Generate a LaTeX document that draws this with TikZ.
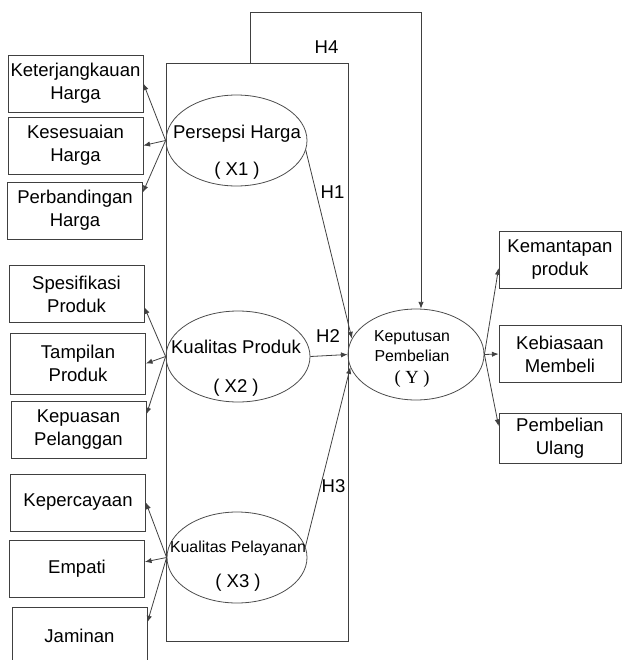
\documentclass[tikz,border=0pt]{standalone}
\usepackage{fontspec}
\setmainfont{Liberation Sans}
\newfontfamily\serifY{Liberation Serif}
\usepackage{tikz}
\usetikzlibrary{arrows.meta}
\usetikzlibrary{shapes.geometric}

\begin{document}
\begin{tikzpicture}[x=0.75pt, y=-0.75pt, >={Latex[length=5pt,width=4pt]},
	every node/.style={align=center, font=\fontsize{13.9}{17.3}\selectfont},
	box/.style={rectangle, draw=black!75, line width=0.6pt, minimum width=101.25pt, minimum height=42.75pt, inner sep=0pt},
	rbox/.style={box, minimum width=91.5pt},
	lv/.style={ellipse, draw=black!70, line width=0.6pt, minimum width=105.75pt, minimum height=68.25pt, inner sep=0pt},
	sm/.style={font=\fontsize{11.9}{15.5}\selectfont},
	ln/.style={draw=black!75, line width=0.6pt, ->}]
	\useasboundingbox (0,0) rectangle (623,660);
	\node[draw=black!75, line width=0.6pt, minimum width=136.5pt, minimum height=433.5pt, inner sep=0pt] (frm) at (257,352) {};
	\node[box] (a1) at (75.5,83.5) {Keterjangkauan\\Harga};
	\node[box] (a2) at (75.5,145.5) {Kesesuaian\\Harga};
	\node[box] (a3) at (75,210.5) {Perbandingan\\Harga};
	\node[box] (b1) at (76.5,294) {Spesifikasi\\Produk};
	\node[box, minimum height=45.75pt] (b2) at (78,363.5) {Tampilan\\Produk};
	\node[box] (b3) at (78.5,430) {Kepuasan\\Pelanggan};
	\node[box] (c1) at (78,502.5) {Kepercayaan};
	\node[box] (c2) at (77,569) {Empati};
	\node[box] (c3) at (79.5,635.5) {Jaminan};
	\node[rbox] (d1) at (560,259.5) {Kemantapan\\produk};
	\node[rbox] (d2) at (560,354) {Kebiasaan\\Membeli};
	\node[rbox, minimum height=37.5pt] (d3) at (560,438) {Pembelian\\Ulang};
	\node[lv] (x1) at (236.5,140.5) {};
	\node[lv, minimum width=108pt] (x2) at (238,356.5) {};
	\node[lv, minimum width=105pt] (x3) at (237,557.5) {};
	\node[lv, minimum width=102pt] (y) at (416,354.5) {};
	\node (x1t) at (237,152) {Persepsi Harga\\[10.7pt]( X1 )};
	\node (x2t) at (236,368) {Kualitas Produk\\[12pt]( X2 )};
	\node (x3t) at (238,566) {{\fontsize{11.9}{15.5}\selectfont Kualitas Pelayanan}\\[9pt]( X3 )};
	\node[sm] (yt) at (412,359) {Keputusan\\Pembelian\\[1pt]{\serifY\fontsize{13.9}{15.5}\selectfont ( Y )}};
	\node (h1) at (332.5,192) {H1};
	\node (h2) at (328,336) {H2};
	\node (h3) at (333.5,486) {H3};
	\node (h4) at (326.5,47) {H4};
	\draw[ln] (x1.west) -- (a1.east);
	\draw[ln] (x1.west) -- (a2.east);
	\draw[ln] (x1.west) -- (a3.15);
	\draw[ln] (x2.west) -- (b1.-11);
	\draw[ln] (x2.west) -- (b2.east);
	\draw[ln] (x2.west) -- (b3.13);
	\draw[ln] (x3.west) -- (c1.east);
	\draw[ln] (x3.west) -- (c2.6);
	\draw[ln] (x3.west) -- (c3.11);
	\draw[ln] (x1.-8) -- (y.166);
	\draw[ln] (x2.east) -- (y.west);
	\draw[ln] (x3.9) -- (y.-169);
	\draw[ln] (y.east) -- (d1.-172);
	\draw[ln] (y.east) -- (d2.west);
	\draw[ln] (y.east) -- (d3.169);
	\coordinate (h4s) at (250,63);
	\coordinate (h4c) at (421,12);
	\draw[ln] (h4s) |- (h4c) -- (h4c |- y.north);
\end{tikzpicture}
\end{document}
